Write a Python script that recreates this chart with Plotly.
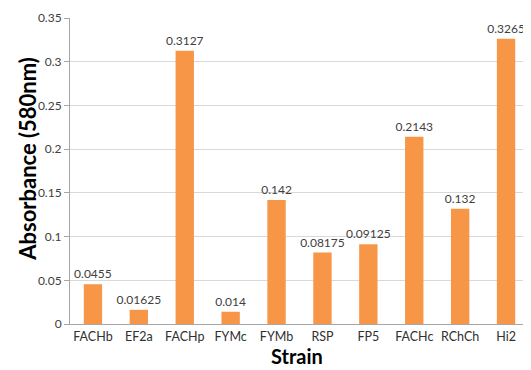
import plotly.graph_objects as go

strains = ["FACHb", "EF2a", "FACHp", "FYMc", "FYMb", "RSP", "FP5", "FACHc", "RChCh", "Hi2"]
absorbance = [0.0455, 0.01625, 0.3127, 0.014, 0.142, 0.08175, 0.09125, 0.2143, 0.132, 0.3265]
labels = ["0.0455", "0.01625", "0.3127", "0.014", "0.142", "0.08175", "0.09125", "0.2143", "0.132", "0.3265"]
y_ticks = [0, 0.05, 0.1, 0.15, 0.2, 0.25, 0.3, 0.35]
y_tick_text = ["0", "0.05", "0.1", "0.15", "0.2", "0.25", "0.3", "0.35"]

fig = go.Figure(go.Bar(
    x=strains, y=absorbance, text=labels, textposition="outside",
    constraintext="none",
    textfont=dict(size=12, color="#404040", family="Lato"),
    marker=dict(color="#F79646", line=dict(width=0)),
    cliponaxis=False,
))

fig.update_layout(
    width=523, height=362,
    margin=dict(l=62, r=2, t=7, b=46),
    paper_bgcolor="white", plot_bgcolor="white",
    bargap=0.6, showlegend=False,
    font=dict(family="Lato", color="#404040"),
    annotations=[
        dict(text="<b>Absorbance (580nm)</b>", textangle=-90,
             xref="paper", yref="paper", x=-0.0915, y=0.54,
             xanchor="center", yanchor="middle", showarrow=False,
             font=dict(size=22, color="black", family="Lato")),
        dict(text="<b>Strain</b>",
             xref="paper", yref="paper", x=0.495, y=-0.104,
             xanchor="center", yanchor="middle", showarrow=False, borderpad=0,
             font=dict(size=20, color="black", family="Lato")),
    ],
)
fig.update_xaxes(
    showline=True, linecolor="#A6A6A6", linewidth=1,
    ticks="", ticklabelstandoff=1,
    tickfont=dict(size=12.5, color="#303030", family="Lato"),
    automargin=False,
)
fig.update_yaxes(
    range=[0, 0.3501], tickvals=y_ticks, ticktext=y_tick_text,
    showgrid=True, gridcolor="#D9D9D9", gridwidth=1,
    showline=True, linecolor="#A6A6A6", linewidth=1,
    ticks="outside", ticklen=5, tickcolor="#A6A6A6",
    tickfont=dict(size=12, color="#404040", family="Lato"),
    ticklabeloverflow="allow",
    zeroline=False, automargin=True,
)

fig.write_html("out.html")
